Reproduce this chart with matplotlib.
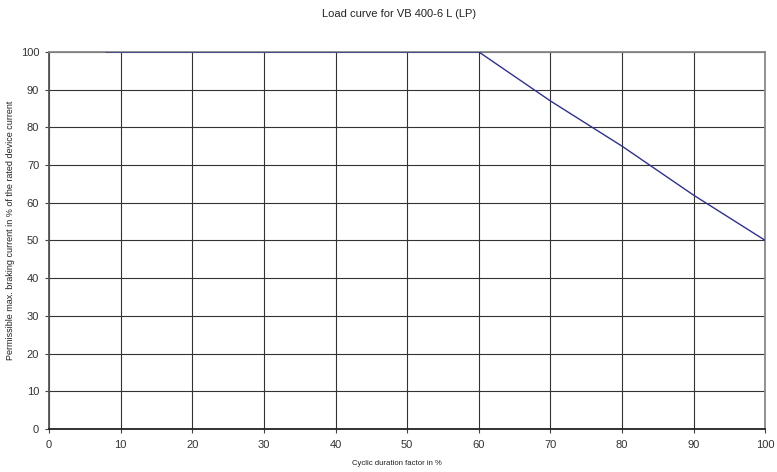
import matplotlib
matplotlib.use("Agg")
import matplotlib.pyplot as plt

# Kennlinie: Einschaltdauer (%) -> zulaessiger Bremsstrom (%)
einschaltdauer = [8, 60, 70, 80, 90, 100]
bremsstrom = [100, 100, 87, 75, 62, 50]

x_ticks = list(range(0, 101, 10))
y_ticks = list(range(0, 101, 10))

plt.rcParams["font.family"] = ["Liberation Sans", "DejaVu Sans"]

fig = plt.figure(figsize=(7.77, 4.72), dpi=100)
ax = fig.add_axes([0.063, 0.091, 0.922, 0.799])

ax.plot(einschaltdauer, bremsstrom, color="#2e3192", linewidth=1.0, zorder=3)

ax.set_xlim(0, 100)
ax.set_ylim(0, 100)
ax.set_xticks(x_ticks)
ax.set_yticks(y_ticks)
ax.grid(True, color="#333333", linewidth=0.8)
ax.tick_params(labelsize=8, length=3, width=0.8, colors="#444444",
               labelcolor="#333333")
ax.tick_params(axis="x", pad=5)
ax.tick_params(axis="y", pad=4)

# Rahmen wie im Original: links/unten dunkel, oben/rechts grau
ax.spines["left"].set_color("#555555")
ax.spines["bottom"].set_color("#222222")
ax.spines["top"].set_color("#888888")
ax.spines["right"].set_color("#888888")
for s in ax.spines.values():
    s.set_linewidth(1.3)

fig.text(0.5135, 0.970, "Load curve for VB 400-6 L (LP)", fontsize=8,
         ha="center", va="center", color="#222222")
fig.text(0.511, 0.017, "Cyclic duration factor in %", fontsize=5.6,
         ha="center", va="center", color="#222222")
fig.text(0.014, 0.513, "Permissible max. braking current in % of the rated device current",
         fontsize=6.5, ha="center", va="center", rotation=90, color="#222222")

fig.savefig("out.png", dpi=100)
